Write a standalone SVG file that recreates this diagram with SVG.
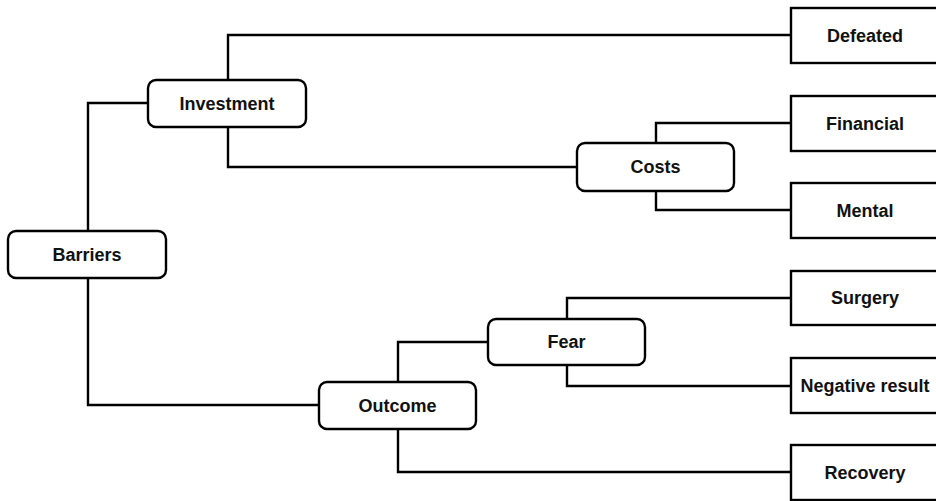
<svg xmlns="http://www.w3.org/2000/svg" width="936" height="501" viewBox="0 0 936 501">
<style>
.n{fill:#fff;stroke:#000;stroke-width:2.4}
.t{font-family:"Liberation Sans",Arial,sans-serif;font-weight:bold;font-size:18px;fill:#111;text-anchor:middle}
.c{fill:none;stroke:#000;stroke-width:2.4}
</style>
<rect width="936" height="501" fill="#fff"/>
<g id="connectors">
<path class="c" d="M88,231 V103 H148"/>
<path class="c" d="M88,278 V405 H319"/>
<path class="c" d="M228,80 V35 H791"/>
<path class="c" d="M228,127 V167 H577"/>
<path class="c" d="M656,143 V123 H791"/>
<path class="c" d="M656,191 V210 H791"/>
<path class="c" d="M398,382 V342 H488"/>
<path class="c" d="M398,429 V472 H791"/>
<path class="c" d="M567,319 V298 H791"/>
<path class="c" d="M567,365 V386 H791"/>
</g>
<g id="barriers"><rect class="n" x="8" y="231" width="158" height="47" rx="8"/><text class="t" x="87" y="261">Barriers</text></g>
<g id="investment"><rect class="n" x="148" y="80" width="158" height="47" rx="8"/><text class="t" x="227" y="110">Investment</text></g>
<g id="costs"><rect class="n" x="577" y="143" width="157" height="48" rx="8"/><text class="t" x="655.5" y="173">Costs</text></g>
<g id="outcome"><rect class="n" x="319" y="382" width="157" height="47" rx="8"/><text class="t" x="397.5" y="412">Outcome</text></g>
<g id="fear"><rect class="n" x="488" y="319" width="157" height="46" rx="8"/><text class="t" x="566.5" y="348">Fear</text></g>
<g id="defeated"><rect class="n" x="791" y="8" width="155" height="55"/><text class="t" x="865" y="42">Defeated</text></g>
<g id="financial"><rect class="n" x="791" y="96" width="155" height="55"/><text class="t" x="865" y="130">Financial</text></g>
<g id="mental"><rect class="n" x="791" y="183" width="155" height="55"/><text class="t" x="865" y="217">Mental</text></g>
<g id="surgery"><rect class="n" x="791" y="271" width="155" height="54"/><text class="t" x="865" y="304">Surgery</text></g>
<g id="negative"><rect class="n" x="791" y="358" width="155" height="55"/><text class="t" x="865" y="392">Negative result</text></g>
<g id="recovery"><rect class="n" x="791" y="445" width="155" height="55"/><text class="t" x="865" y="479">Recovery</text></g>
</svg>
